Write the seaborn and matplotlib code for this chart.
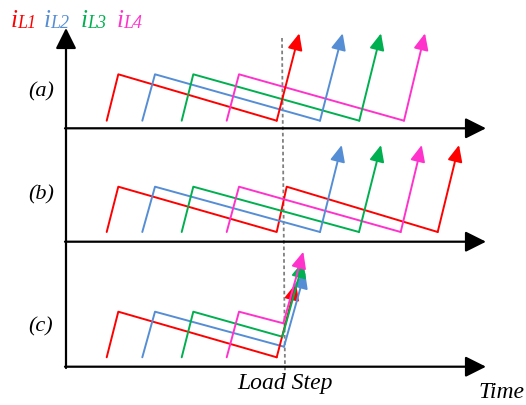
import matplotlib
matplotlib.use("Agg")
import matplotlib.pyplot as plt
import seaborn as sns

sns.set_theme(style="white")
plt.rcParams['font.family'] = ['Liberation Serif', 'DejaVu Serif']
plt.rcParams['text.color'] = 'black'

# ---- data (schematic, pixel-space units) ----
phases = ["iL1", "iL2", "iL3", "iL4"]
legend_subs = ["L1", "L2", "L3", "L4"]
colors = ["#FF0000", "#558ED5", "#00B050", "#FF33CC"]
panel_labels = ["(a)", "(b)", "(c)"]

# panel (a): each phase: rise, ramp down, then fast rise (arrow)
a_x = {"iL1": [106.7, 118.3, 276.7, 299.3],
       "iL2": [142.3, 155.0, 320.0, 342.7],
       "iL3": [181.7, 193.3, 359.3, 381.0],
       "iL4": [226.7, 239.0, 404.0, 425.0]}
a_y = {"iL1": [120.7, 74.3, 120.7, 33.3],
       "iL2": [120.7, 74.3, 120.7, 33.3],
       "iL3": [120.7, 74.3, 120.7, 33.3],
       "iL4": [120.7, 74.3, 120.7, 33.3]}

# panel (b)
b_x = {"iL1": [106.7, 118.3, 276.7, 286.7, 437.7, 459.0],
       "iL2": [142.3, 155.0, 320.0, 341.7],
       "iL3": [181.7, 193.3, 359.0, 381.0],
       "iL4": [226.7, 239.0, 400.7, 421.7]}
b_y = {"iL1": [232.0, 186.7, 232.0, 186.7, 232.0, 145.0],
       "iL2": [232.0, 186.7, 232.0, 145.0],
       "iL3": [232.0, 186.7, 232.0, 145.0],
       "iL4": [232.0, 186.7, 232.0, 145.0]}

# panel (c)
c_x = {"iL1": [106.7, 118.3, 276.7, 296.0],
       "iL2": [142.3, 155.0, 284.0, 305.0],
       "iL3": [181.7, 193.3, 282.3, 303.3],
       "iL4": [226.7, 239.0, 283.3, 303.3]}
c_y = {"iL1": [357.3, 311.7, 357.3, 283.3],
       "iL2": [357.3, 311.7, 346.7, 271.7],
       "iL3": [357.3, 311.7, 336.7, 261.0],
       "iL4": [357.3, 311.7, 323.3, 251.7]}

panels = [(a_x, a_y), (b_x, b_y), (c_x, c_y)]
time_axes_y = [128.3, 241.7, 366.7]
label_y = [92, 195, 327]

fig = plt.figure(figsize=(5.26, 4.05), dpi=100)
ax = fig.add_axes([0, 0, 1, 1])
ax.set_xlim(0, 526)
ax.set_ylim(405, 0)
ax.axis("off")

# axes arrows
axis_kw = dict(arrowstyle="-|>,head_length=0.9,head_width=0.45", color="black",
               lw=1.6, shrinkA=0, shrinkB=0, mutation_scale=14)
ax.annotate("", xy=(66, 28), xytext=(66, 368), arrowprops=axis_kw)
for yy in time_axes_y:
    ax.annotate("", xy=(486, yy), xytext=(65, yy), arrowprops=axis_kw)

# load step dashed line
ax.plot([282, 285], [38, 372], color="#808080", lw=1.3, ls=(0, (2, 1.5)))

for px, py in panels:
    for ph, col in zip(phases, colors):
        xs, ys = px[ph], py[ph]
        sns.lineplot(x=xs[:-1], y=ys[:-1], sort=False, estimator=None,
                     color=col, lw=1.4, ax=ax)
        ax.annotate("", xy=(xs[-1], ys[-1]), xytext=(xs[-2], ys[-2]),
                    arrowprops=dict(arrowstyle="-|>,head_length=1.0,head_width=0.45",
                                    color=col, lw=1.4, shrinkA=0, shrinkB=0,
                                    mutation_scale=10))

for lab, yy in zip(panel_labels, label_y):
    ax.text(41, yy, lab, fontsize=16, style="italic", ha="center", va="center")

ax.text(285, 384, "Load Step", fontsize=17, style="italic", ha="center", va="center")
ax.text(501, 393, "Time", fontsize=17, style="italic", ha="center", va="center")

leg_x = [11, 44, 81, 117]
for sub, col, xx in zip(legend_subs, colors, leg_x):
    ax.text(xx, 27, "i", fontsize=18, color=col, style="italic",
            ha="left", va="baseline")
    ax.text(xx + 6.5, 28.5, sub, fontsize=13, color=col, style="italic",
            ha="left", va="baseline")

fig.savefig("out.png", dpi=100)
